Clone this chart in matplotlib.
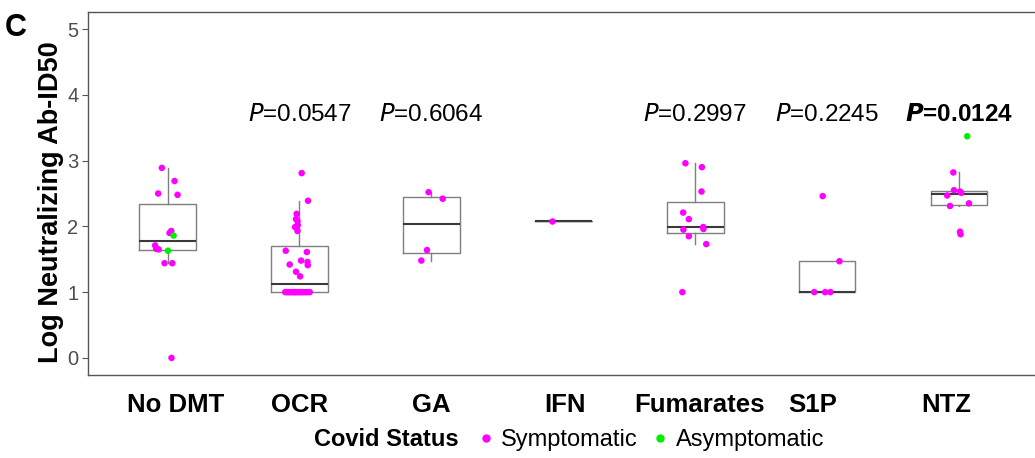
import matplotlib
matplotlib.use("Agg")
import matplotlib.pyplot as plt
from matplotlib.lines import Line2D

plt.rcParams['font.family'] = ['Liberation Sans', 'DejaVu Sans']

# ---- data ----
grupos = ['No DMT', 'OCR', 'GA', 'IFN', 'Fumarates', 'S1P', 'NTZ']

# log neutralizing Ab-ID50 per group
val_nodmt = [2.89, 2.69, 2.50, 2.48, 1.93, 1.90, 1.86, 1.71, 1.66, 1.65, 1.63, 1.44, 1.44, 0.00]
val_ocr = [2.81, 2.39, 2.19, 2.11, 2.08, 2.02, 1.99, 1.93, 1.63, 1.61, 1.48, 1.46, 1.42, 1.41,
           1.31, 1.24] + [1.0] * 16
val_ga = [2.52, 2.42, 1.64, 1.48]
val_ifn = [2.08]
val_fum = [2.96, 2.90, 2.53, 2.21, 2.11, 1.99, 1.96, 1.95, 1.85, 1.73, 1.00]
val_s1p = [2.46, 1.47, 1.00, 1.00, 1.00]
val_ntz = [3.37, 2.82, 2.55, 2.53, 2.51, 2.47, 2.35, 2.31, 1.92, 1.88]

# covid status (S = symptomatic, A = asymptomatic)
est_nodmt = ['S'] * 6 + ['A'] + ['S'] * 3 + ['A'] + ['S'] * 3
est_ocr = ['S'] * 32
est_ga = ['S'] * 4
est_ifn = ['S']
est_fum = ['S'] * 11
est_s1p = ['S'] * 5
est_ntz = ['A'] + ['S'] * 9

# horizontal jitter of each point (category units), as seen in the picture
jit_nodmt = [-0.043, 0.053, -0.071, 0.076, 0.028, 0.015, 0.046, -0.094, -0.086, -0.068,
             0.003, -0.023, 0.036, 0.030]
jit_ocr = [0.017, 0.065, -0.021, -0.026, -0.015, -0.013, -0.033, -0.015, -0.104, 0.056,
           0.012, 0.061, -0.074, 0.063, -0.026, 0.005,
           -0.108, -0.095, -0.083, -0.070, -0.061, -0.048, -0.036, -0.030, -0.017, -0.004,
           0.008, 0.019, 0.033, 0.047, 0.060, 0.078]
jit_ga = [-0.021, 0.086, -0.033, -0.076]
jit_ifn = [-0.087]
jit_fum = [-0.074, 0.051, 0.048, -0.091, -0.048, 0.061, 0.063, -0.089, -0.048, 0.084, -0.097]
jit_s1p = [-0.033, 0.094, -0.097, -0.015, 0.025]
jit_ntz = [0.063, -0.043, -0.038, 0.008, 0.017, -0.089, 0.076, -0.068, 0.008, 0.012]

p_textos = ['', 'P=0.0547', 'P=0.6064', '', 'P=0.2997', 'P=0.2245', 'P=0.0124']
p_bold = [False, False, False, False, False, False, True]

# small nudges of the category labels as placed in the original
label_nudge = [0.06, 0.0, 0.0, 0.01, 0.03, -0.11, -0.10]

valores = [val_nodmt, val_ocr, val_ga, val_ifn, val_fum, val_s1p, val_ntz]
estados = [est_nodmt, est_ocr, est_ga, est_ifn, est_fum, est_s1p, est_ntz]
jitters = [jit_nodmt, jit_ocr, jit_ga, jit_ifn, jit_fum, jit_s1p, jit_ntz]

COLORES = {'S': '#FF00FF', 'A': '#00EE00'}

# ---- figure ----
fig = plt.figure(figsize=(10.35, 4.58), dpi=100)
ax = fig.add_axes([88 / 1035, 83 / 458, 1.003 - 88 / 1035, 363 / 458])

pos = list(range(len(grupos)))
ax.boxplot(valores, positions=pos, widths=0.43, showfliers=False, showcaps=False,
           whis=1.5, manage_ticks=False,
           boxprops=dict(color='#7f7f7f', linewidth=1.0),
           whiskerprops=dict(color='#7f7f7f', linewidth=1.0),
           medianprops=dict(color='#3a3a3a', linewidth=1.5))

for i, (vals, est, jit) in enumerate(zip(valores, estados, jitters)):
    xs = [i + j for j in jit]
    cols = [COLORES[e] for e in est]
    ax.scatter(xs, vals, c=cols, s=22, linewidths=0, zorder=3)

for i, (txt, b) in enumerate(zip(p_textos, p_bold)):
    if not txt:
        continue
    w = 'bold' if b else 'normal'
    ax.text(i, 3.70, r'$\mathbfit{P}$' + txt[1:] if b else r'$\mathit{P}$' + txt[1:],
            ha='center', va='center', fontsize=17.5, fontweight=w)

ax.set_xlim(-0.603, 6.6)
ax.set_ylim(-0.26, 5.26)
ax.set_yticks([0, 1, 2, 3, 4, 5])
ax.set_xticks([p + n for p, n in zip(pos, label_nudge)])
ax.set_xticklabels(grupos, fontsize=18.5, fontweight='bold')
ax.tick_params(axis='x', length=0, pad=13)
ax.tick_params(axis='y', length=4, color='#555555', labelcolor='#4d4d4d', labelsize=14.5, pad=3)
for s in ax.spines.values():
    s.set_color('#555555')
    s.set_linewidth(1.0)

ax.set_ylabel('Log Neutralizing Ab-ID50', fontsize=19.5, fontweight='bold', labelpad=2)
ax.yaxis.label.set_y(0.475)

fig.text(5 / 1035, 1 - 28 / 458, 'C', fontsize=22, fontweight='bold', va='center', ha='left')

# legend at the bottom
fig.text(386 / 1035, 1 - 440 / 458, 'Covid Status', fontsize=17, fontweight='bold',
         ha='center', va='center')
handles = [Line2D([], [], marker='o', linestyle='', color=COLORES['S'], markersize=5),
           Line2D([], [], marker='o', linestyle='', color=COLORES['A'], markersize=5)]
fig.legend(handles, ['Symptomatic', 'Asymptomatic'], ncol=2, frameon=False,
           loc='center', bbox_to_anchor=(648 / 1035, 1 - 440 / 458), fontsize=17,
           handletextpad=0.05, columnspacing=0.35, handlelength=1.2)

fig.savefig('out.png', dpi=100)
